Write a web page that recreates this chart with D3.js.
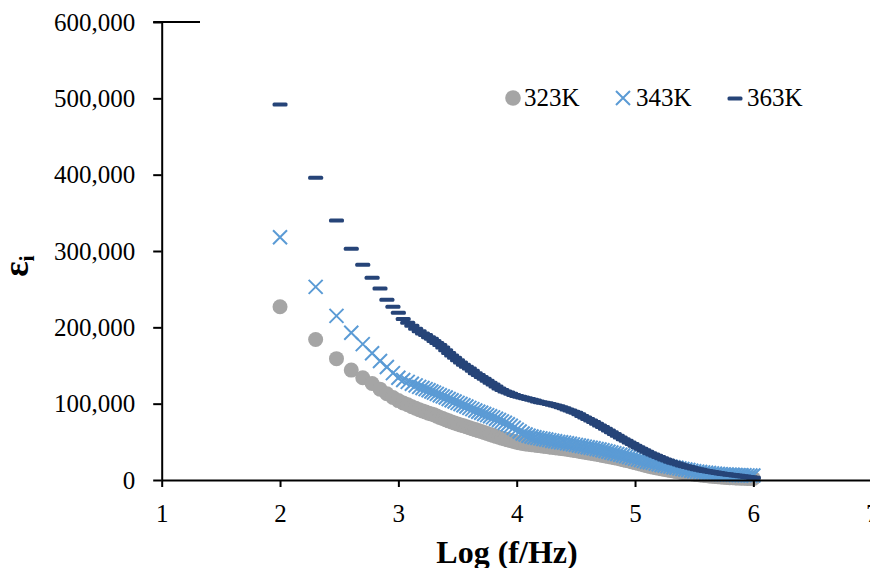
<!DOCTYPE html>
<html>
<head>
<meta charset="utf-8">
<script src="https://cdn.jsdelivr.net/npm/d3@7/dist/d3.min.js"></script>
<style>
    body { margin: 0; background: #fff; }
    svg { display: block; font-family: "Liberation Serif", "Times New Roman", serif; }
</style>
</head>
<body>
<div id="chart"></div>
<script>
    "use strict";

    // log10 of frequency (Hz)
    var logF = [2, 2.301, 2.477, 2.602, 2.699, 2.778, 2.845, 2.903, 2.954, 3.0,
        3.041, 3.079, 3.114, 3.146, 3.176, 3.204, 3.230, 3.255, 3.279, 3.301,
        3.325, 3.35, 3.375, 3.40, 3.425, 3.45, 3.475, 3.50, 3.525, 3.55,
        3.575, 3.60, 3.625, 3.65, 3.675, 3.70, 3.725, 3.75, 3.775, 3.80,
        3.825, 3.85, 3.875, 3.90, 3.925, 3.95, 3.975, 4.00, 4.025, 4.05,
        4.075, 4.10, 4.125, 4.15, 4.175, 4.20, 4.225, 4.25, 4.275, 4.30,
        4.325, 4.35, 4.375, 4.40, 4.425, 4.45, 4.475, 4.50, 4.525, 4.55,
        4.575, 4.60, 4.625, 4.65, 4.675, 4.70, 4.725, 4.75, 4.775, 4.80,
        4.825, 4.85, 4.875, 4.90, 4.925, 4.95, 4.975, 5.00, 5.025, 5.05,
        5.075, 5.10, 5.125, 5.15, 5.175, 5.20, 5.225, 5.25, 5.275, 5.30,
        5.325, 5.35, 5.375, 5.40, 5.425, 5.45, 5.475, 5.50, 5.525, 5.55,
        5.575, 5.60, 5.625, 5.65, 5.675, 5.70, 5.725, 5.75, 5.775, 5.80,
        5.825, 5.85, 5.875, 5.90, 5.925, 5.95, 5.975, 6.00];

    var eps323 = [227000, 184000, 159000, 144000, 134000, 126500, 119000, 113000, 108000, 104000,
        101000, 98500, 96000, 94000, 92000, 90500, 89000, 87500, 86500, 85500,
        83700, 82000, 80500, 79000, 77500, 76000, 74700, 73500, 72200, 71000,
        69700, 68500, 67200, 66000, 64700, 63500, 62200, 61000, 59700, 58500,
        57200, 56000, 54800, 53700, 52600, 51600, 50600, 49600, 48700, 47900,
        47200, 46800, 46300, 45800, 45300, 44800, 44300, 43800, 43300, 42800,
        42300, 41800, 41300, 40800, 40300, 39700, 39100, 38500, 37800, 37100,
        36500, 35800, 35100, 34400, 33700, 33000, 32200, 31500, 30700, 30000,
        29200, 28400, 27500, 26600, 25700, 24800, 23800, 22800, 21800, 20800,
        19800, 18800, 17800, 16900, 16100, 15300, 14600, 13900, 13200, 12500,
        11700, 11000, 10400, 9800, 9200, 8600, 8100, 7600, 7100, 6700,
        6200, 5800, 5400, 5000, 4600, 4300, 4000, 3700, 3400, 3100,
        2900, 2700, 2500, 2300, 2200, 2100, 2000, 1900];

    var eps343 = [318000, 253000, 215000, 193000, 178000, 166000, 156000, 148000, 140000, 134000,
        131000, 128500, 126000, 124000, 122000, 120500, 119000, 117500, 116000, 114500,
        112800, 111000, 109500, 108000, 106200, 104500, 102800, 101000, 99500, 98000,
        96200, 94500, 92800, 91000, 89500, 88000, 86500, 85000, 83500, 82000,
        80200, 78500, 76800, 75000, 73000, 71000, 68500, 66000, 63500, 61000,
        59500, 58000, 57000, 56000, 55200, 54500, 53700, 53000, 52200, 51500,
        50700, 50000, 49500, 49000, 48200, 47500, 46700, 46000, 45200, 44500,
        43700, 43000, 42200, 41500, 40700, 40000, 39000, 38000, 37000, 36000,
        35000, 34000, 33000, 32000, 31000, 30000, 29000, 28000, 27000, 26000,
        25000, 24000, 23200, 22500, 21500, 20500, 19700, 19000, 18200, 17500,
        16700, 16000, 15200, 14500, 13700, 13000, 12200, 11500, 11000, 10500,
        10000, 9500, 9100, 8700, 8300, 8000, 7700, 7400, 7200, 7000,
        6800, 6600, 6400, 6300, 6200, 6100, 6000, 6000];

    var eps363 = [492000, 396000, 340000, 303000, 282000, 265000, 251000, 236000, 227000, 219000,
        211000, 206000, 202000, 198000, 195000, 192000, 190000, 187000, 185000, 182000,
        179500, 177000, 173500, 170000, 166500, 163000, 160000, 157000, 154000, 151000,
        148500, 146000, 143000, 140000, 137500, 135000, 132500, 130000, 127500, 125000,
        122500, 120000, 118000, 116000, 114500, 113000, 111500, 110000, 109000, 108000,
        107000, 106000, 105000, 104000, 103000, 102000, 101200, 100500, 99500, 98500,
        97500, 96500, 95300, 94000, 92500, 91000, 89500, 88000, 86000, 84000,
        82000, 80000, 78000, 76000, 73800, 71500, 69300, 67000, 64800, 62500,
        60300, 58000, 55800, 53500, 51300, 49000, 47000, 45000, 43000, 41000,
        39000, 37000, 35200, 33500, 31700, 30000, 28500, 27000, 25500, 24000,
        22700, 21500, 20200, 19000, 18000, 17000, 16000, 15000, 14100, 13300,
        12500, 11800, 11100, 10500, 9800, 9200, 8600, 8000, 7500, 7000,
        6500, 6000, 5500, 5000, 4500, 4000, 3500, 3000];

    var seriesNames = ["323K", "343K", "363K"];
    var xTicks = [1, 2, 3, 4, 5, 6, 7];
    var yTicks = [0, 100000, 200000, 300000, 400000, 500000, 600000];

    var W = 870, H = 568;
    var svg = d3.select("#chart").append("svg").attr("width", W).attr("height", H);

    var x = d3.scaleLinear().domain([1, 7]).range([161.7, 871.7]);
    var y = d3.scaleLinear().domain([0, 600000]).range([480, 22]);

    var cross = "M-7,-7L7,7M-7,7L7,-7";

    /* series markers, drawn in Excel order so later series sit on top */
    function pts(vals) {
        return logF.map(function (f, i) { return { f: f, v: vals[i] }; });
    }

    svg.append("g").selectAll("circle").data(pts(eps323)).enter().append("circle")
        .attr("cx", function (d) { return x(d.f); })
        .attr("cy", function (d) { return y(d.v); })
        .attr("r", 7.5).attr("fill", "#a5a5a5");

    svg.append("g").selectAll("path").data(pts(eps343)).enter().append("path")
        .attr("transform", function (d) { return "translate(" + x(d.f) + "," + y(d.v) + ")"; })
        .attr("d", cross)
        .attr("stroke", "#5b9bd5").attr("stroke-width", 2).attr("fill", "none");

    svg.append("g").selectAll("rect").data(pts(eps363)).enter().append("rect")
        .attr("x", function (d) { return x(d.f) - 7.5; })
        .attr("y", function (d) { return y(d.v) - 2; })
        .attr("width", 15).attr("height", 4).attr("rx", 1.5)
        .attr("fill", "#264478");

    /* axes */
    var xAxis = svg.append("g").attr("transform", "translate(0," + y(0) + ")")
        .call(d3.axisBottom(x).tickValues(xTicks).tickSize(7).tickSizeOuter(0).tickFormat(d3.format("d")));
    xAxis.selectAll("text").attr("y", 42).attr("dy", 0);

    svg.append("g").attr("transform", "translate(" + x(1) + ",0)")
        .call(d3.axisLeft(y).tickValues(yTicks).tickSize(8.5).tickPadding(18).tickSizeOuter(0).tickFormat(d3.format(",")));

    svg.selectAll(".domain, .tick line").attr("stroke", "#000").attr("stroke-width", 2);
    svg.selectAll(".tick text").attr("fill", "#000")
        .style("font-family", "'Liberation Serif', 'Times New Roman', serif").style("font-size", "25px");

    svg.append("line").attr("x1", x(1) - 8.5).attr("x2", 200)
        .attr("y1", y(600000)).attr("y2", y(600000))
        .attr("stroke", "#000").attr("stroke-width", 2);

    /* axis titles */
    svg.append("text").attr("x", 507).attr("y", 563).attr("text-anchor", "middle")
        .style("font-size", "32px").style("font-weight", "bold").text("Log (f/Hz)");

    var yt = svg.append("text").attr("transform", "translate(28,266) rotate(-90)")
        .attr("text-anchor", "middle").style("font-weight", "bold");
    yt.append("tspan").style("font-size", "36px").text("ε");
    yt.append("tspan").style("font-size", "22px").attr("dy", 6).text("i");

    /* legend */
    var lg = svg.append("g");
    var legendX = [513, 623, 735];
    var textX = [524, 636, 747];
    lg.append("circle").attr("cx", legendX[0]).attr("cy", 98).attr("r", 7.8).attr("fill", "#a5a5a5");
    lg.append("path").attr("transform", "translate(" + legendX[1] + ",98)")
        .attr("d", cross).attr("stroke", "#5b9bd5").attr("stroke-width", 2);
    lg.append("rect").attr("x", legendX[2] - 7.5).attr("y", 96.5).attr("width", 15).attr("height", 4)
        .attr("rx", 1.5).attr("fill", "#264478");
    lg.selectAll("text").data(seriesNames).enter().append("text")
        .attr("x", function (d, i) { return textX[i]; }).attr("y", 106)
        .style("font-size", "25px").text(function (d) { return d; });
</script>
</body>
</html>
